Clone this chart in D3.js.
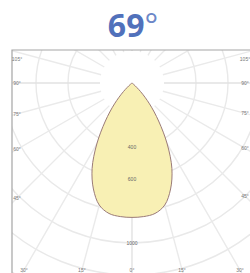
<!DOCTYPE html>
<html>
<head>
<meta charset="utf-8">
<script src="https://cdn.jsdelivr.net/npm/d3@7"></script>
<style>
  body { margin: 0; background: #fff; }
  svg { display: block; }
</style>
</head>
<body>
<svg width="250" height="273"></svg>
<script>
// beam angle title
var title = "69";

// candela curve, angle from nadir (deg) -> intensity (cd), mirrored on both sides
var angles  = [0, 5, 10, 15, 20, 25, 30, 35, 40, 45, 50, 55];
var candela = [840, 838, 828, 790, 705, 590, 440, 290, 170, 75, 15, 0];

// grid
var ringValues = [200, 400, 600, 800, 1000, 1200, 1400];
var ringLabels = [400, 600, 1000];
var sideAngles = [105, 90, 75, 60, 45];
var bottomAngles = [30, 15, 0];

var svg = d3.select("svg");
var cx = 132, cy = 83;
var frame = {x0: 12, y0: 50, x1: 254, y1: 278};

var r = d3.scaleLinear().domain([0, 1000]).range([0, 160]);
var rad = d => d * Math.PI / 180;

// title
var t = svg.append("text")
    .attr("x", 133)
    .attr("y", 37)
    .attr("text-anchor", "middle")
    .attr("fill", "#5171bb")
    .style("font-family", "'Open Sans', sans-serif")
    .style("font-size", "32px");
t.append("tspan").attr("font-weight", "bold").text(title);
t.append("tspan").attr("font-weight", "normal").attr("fill", "#6d88c8").text("°");

svg.append("clipPath").attr("id", "clip")
  .append("rect")
    .attr("x", frame.x0).attr("y", frame.y0)
    .attr("width", frame.x1 - frame.x0).attr("height", frame.y1 - frame.y0);

var g = svg.append("g").attr("clip-path", "url(#clip)");
var polar = g.append("g").attr("transform", "translate(" + cx + "," + cy + ")");

// rings
polar.selectAll("circle.ring")
  .data(ringValues.slice(1))
  .join("circle")
    .attr("class", "ring")
    .attr("r", d => r(d))
    .attr("fill", "none")
    .attr("stroke", "#e9e9e9")
    .attr("stroke-width", 1.4);

// radial lines every 15 deg
polar.selectAll("line.ray")
  .data(d3.range(0, 360, 15))
  .join("line")
    .attr("class", "ray")
    .attr("x1", d => r(ringValues[0]) * Math.sin(rad(d)))
    .attr("y1", d => r(ringValues[0]) * Math.cos(rad(d)))
    .attr("x2", d => r(1600) * Math.sin(rad(d)))
    .attr("y2", d => r(1600) * Math.cos(rad(d)))
    .attr("stroke", d => (d % 90 == 0) ? "#e2e2e2" : "#eaeaea")
    .attr("stroke-width", 1.4);

// candela curve
var pts = [];
angles.forEach((a, i) => pts.push({a: a, v: candela[i]}));
for (var i = angles.length - 1; i > 0; i--) pts.push({a: -angles[i], v: candela[i]});
pts.sort((p, q) => p.a - q.a);

var curve = d3.lineRadial()
    .angle(d => Math.PI - rad(d.a))
    .radius(d => r(d.v))
    .curve(d3.curveCatmullRomClosed.alpha(0.5));

polar.append("path")
    .datum(pts)
    .attr("d", curve)
    .attr("fill", "#f8f0b4")
    .attr("stroke", "#9b7b78")
    .attr("stroke-width", 1);

// ring labels
polar.selectAll("text.rl")
  .data(ringLabels)
  .join("text")
    .attr("class", "rl")
    .attr("x", 0)
    .attr("y", d => r(d))
    .attr("dy", "0.35em")
    .attr("text-anchor", "middle")
    .attr("fill", "#666")
    .style("font-family", "'Liberation Sans', sans-serif")
    .style("font-size", "5px")
    .text(d => d);

// frame
svg.append("path")
    .attr("d", "M" + frame.x0 + "," + frame.y1 + "V" + frame.y0 + "H" + frame.x1 + "V" + frame.y1)
    .attr("fill", "none")
    .attr("stroke", "#a5a5a5")
    .attr("stroke-width", 1.2);

// angle labels
var lab = [];
sideAngles.forEach(a => {
  [-1, 1].forEach(s => {
    var x = s < 0 ? 17 : 245;
    var y = cy + Math.abs(x - cx) / Math.tan(rad(a));
    y = Math.max(59, Math.min(270, y));
    lab.push({x: x, y: y, a: a});
  });
});
bottomAngles.forEach(a => {
  (a == 0 ? [1] : [-1, 1]).forEach(s => {
    lab.push({x: cx + s * (270 - cy) * Math.tan(rad(a)), y: 270, a: a});
  });
});

svg.selectAll("text.al")
  .data(lab)
  .join("text")
    .attr("class", "al")
    .attr("x", d => d.x)
    .attr("y", d => d.y)
    .attr("dy", "0.35em")
    .attr("text-anchor", "middle")
    .attr("fill", "#777")
    .style("font-family", "'Liberation Sans', sans-serif")
    .style("font-size", "5px")
    .text(d => d.a + "°");
</script>
</body>
</html>
